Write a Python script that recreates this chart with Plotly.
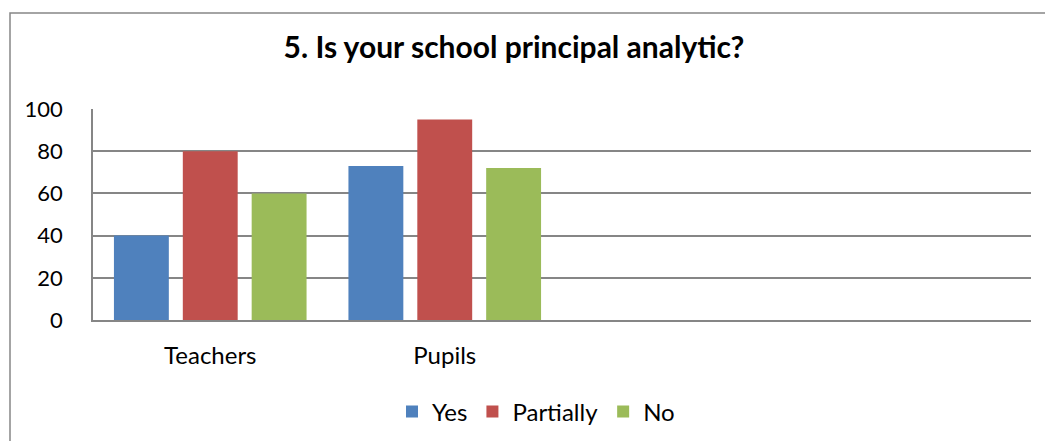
import plotly.graph_objects as go

categories = ["Teachers", "Pupils"]
series_names = ["Yes", "Partially", "No"]
yes_values = [40, 73]
partially_values = [80, 95]
no_values = [60, 72]
colors = ["#4F81BD", "#C0504D", "#9BBB59"]
y_ticks = [0, 20, 40, 60, 80, 100]

W, H = 1045, 441
L, R, T, B = 93, 14, 109, 121
pw = W - L - R
ph = H - T - B

def px_x(p):
    return (p - L) / pw

def px_y(p):
    return (H - B - p) / ph

x_pos = list(range(len(categories)))
fig = go.Figure()
for name, vals, col in zip(series_names, [yes_values, partially_values, no_values], colors):
    fig.add_trace(go.Bar(x=x_pos, y=vals, name=name, marker=dict(color=col, line=dict(width=0))))

fig.update_layout(
    width=W, height=H,
    margin=dict(l=L, r=R, t=T, b=B, pad=0, autoexpand=False),
    paper_bgcolor="white", plot_bgcolor="white",
    font=dict(family="Lato", size=22, color="#000000"),
    barmode="group", bargap=0.119, bargroupgap=0.203,
    title=dict(text="<b>5. Is your school principal analytic?</b>",
               x=px_x(514), xref="paper", xanchor="center",
               y=1 - 47 / H, yref="container", yanchor="middle",
               font=dict(family="Lato", size=30, color="#000000")),
    legend=dict(orientation="h", x=px_x(536), xanchor="center",
                y=px_y(412), yanchor="middle",
                font=dict(family="Lato", size=24), itemwidth=30,
                traceorder="normal"),
    showlegend=True,
)
fig.update_xaxes(range=[-0.5, 3.5], tickvals=x_pos, ticktext=categories,
                 tickfont=dict(size=24), automargin=False,
                 showgrid=False, zeroline=False, showline=True,
                 linecolor="#868686", linewidth=1.5,
                 ticks="outside", ticklen=0, ticklabelstandoff=13)
fig.update_yaxes(range=[0, 100], tickvals=y_ticks, showgrid=True,
                 tickfont=dict(size=22), automargin=False,
                 gridcolor="#868686", gridwidth=1.5, zeroline=False,
                 showline=True, linecolor="#868686", linewidth=1.5,
                 ticks="outside", ticklen=0, ticklabelstandoff=24)

fig.add_shape(type="rect", xref="paper", yref="paper",
              x0=px_x(10), x1=px_x(1060), y0=px_y(460), y1=px_y(13),
              line=dict(color="#868686", width=1.5), fillcolor="rgba(0,0,0,0)",
              layer="below")

fig.write_html("out.html")
